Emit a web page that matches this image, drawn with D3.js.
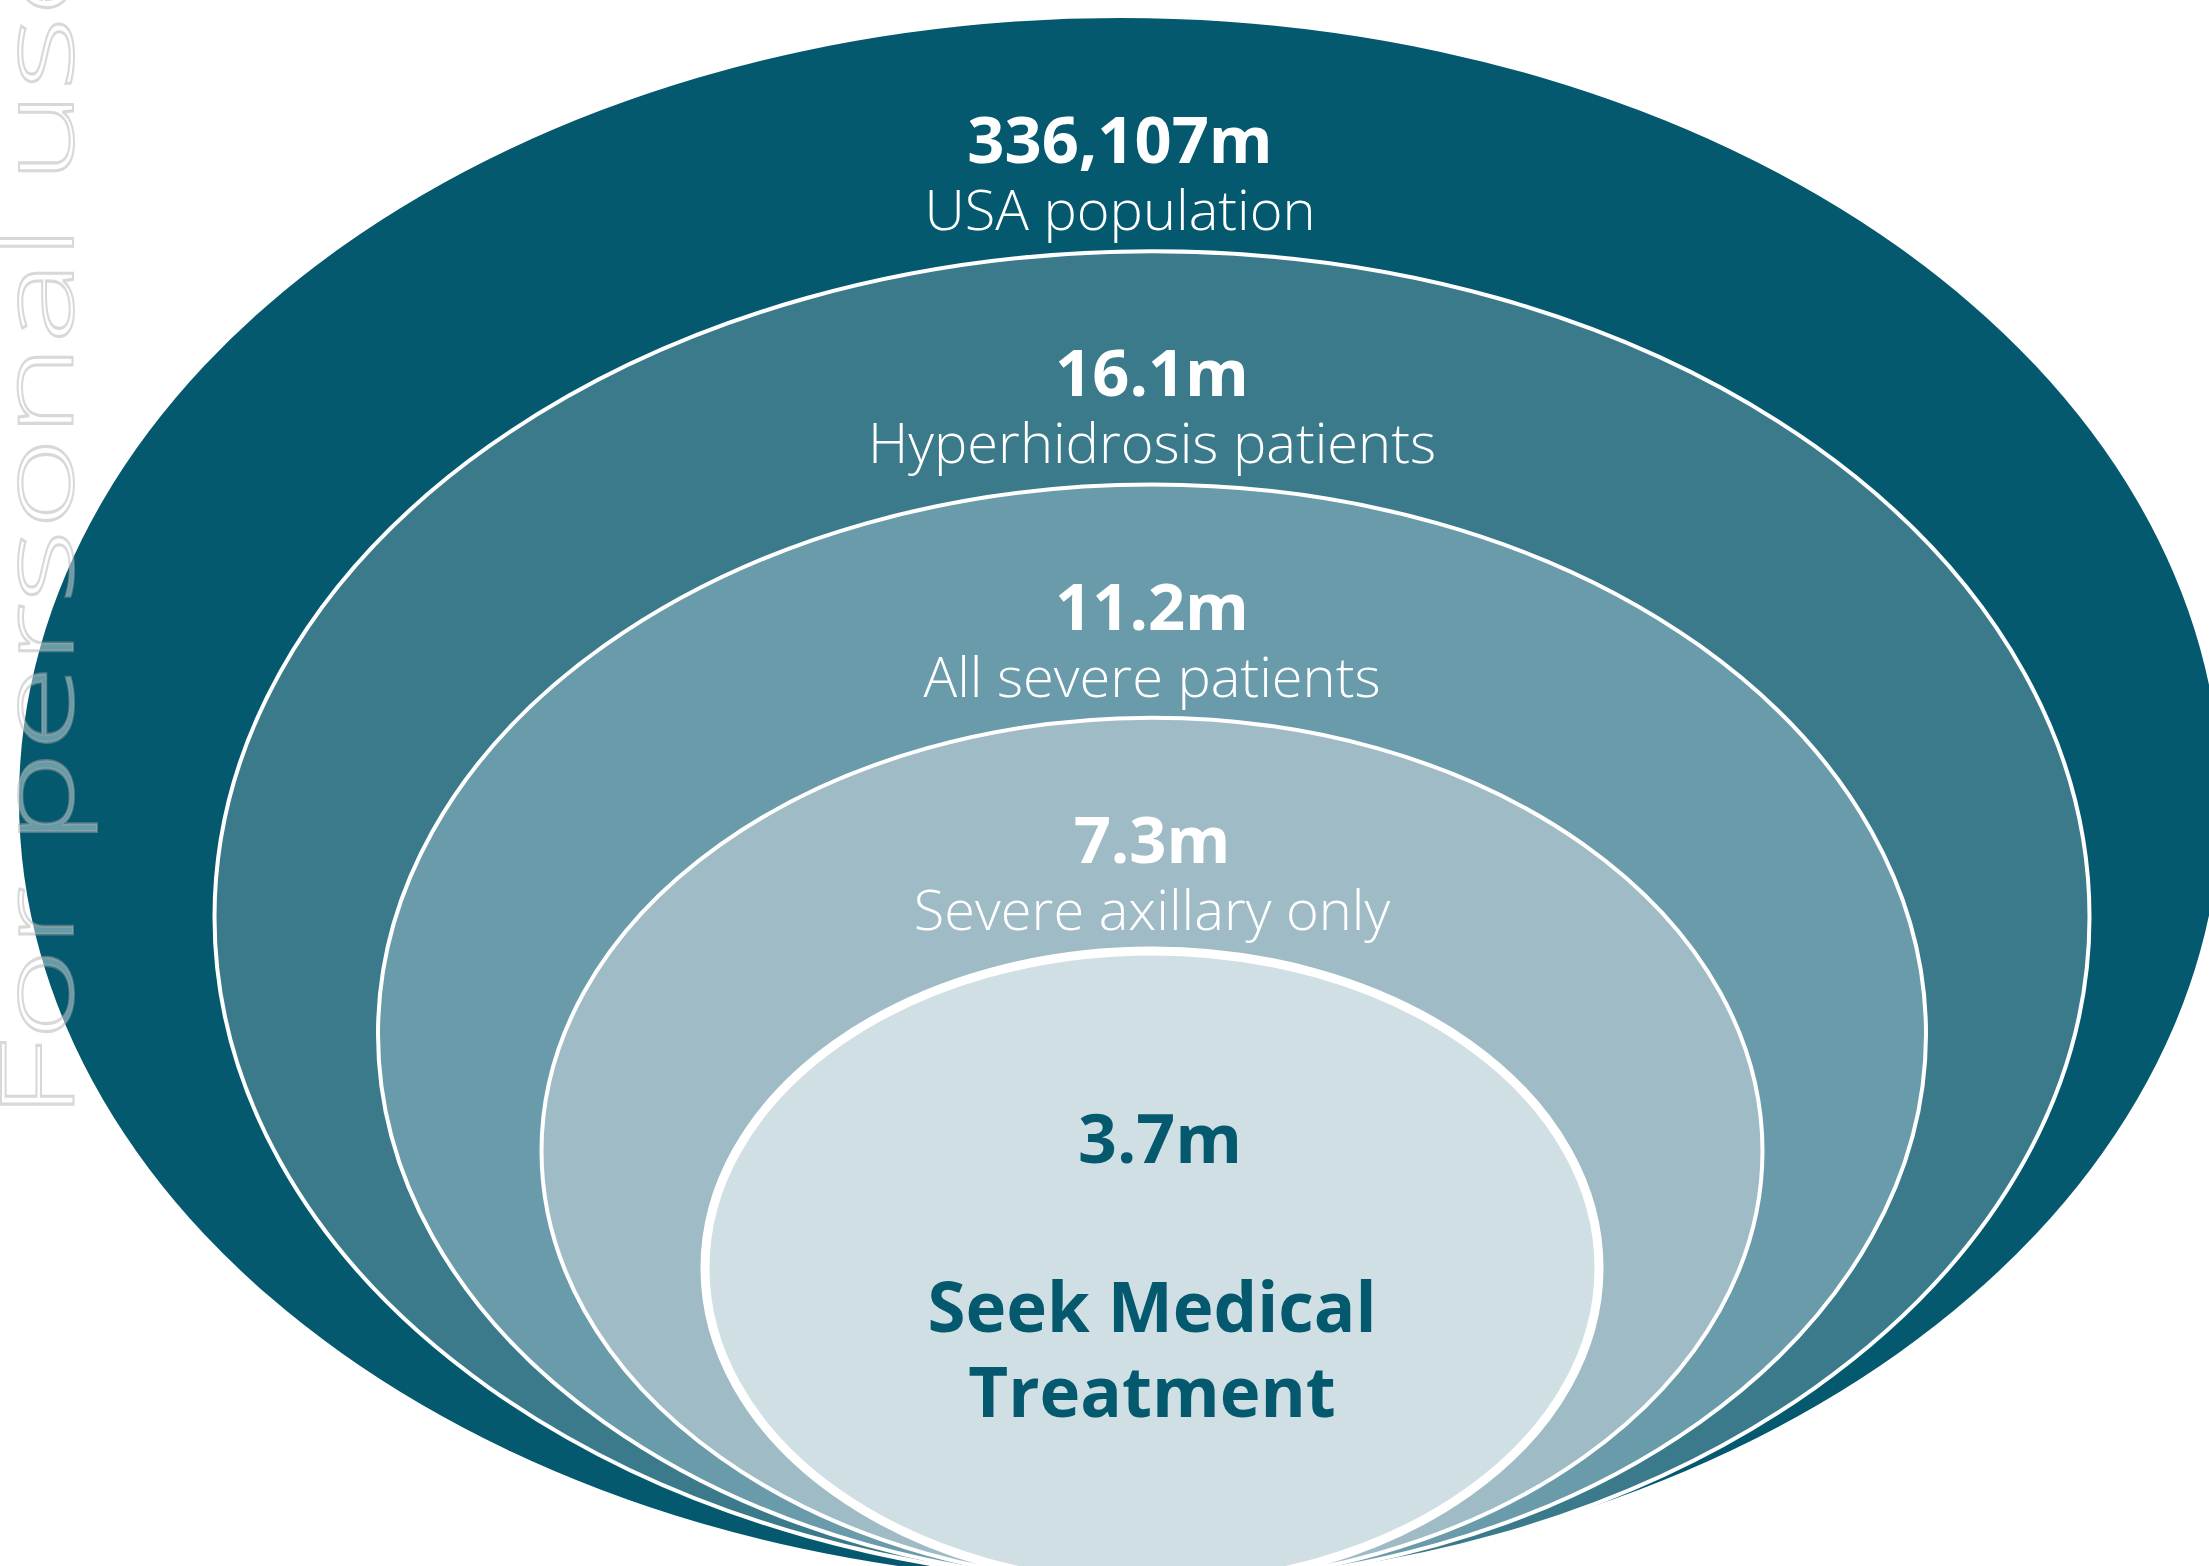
<!DOCTYPE html>
<html>
<head>
<meta charset="utf-8">
<script src="https://cdn.jsdelivr.net/npm/d3@7"></script>
<style>
  body { margin: 0; background: #ffffff; }
  svg { display: block; }
  .value { font-family: "Open Sans", sans-serif; font-weight: 700; }
  .desc { font-family: "Open Sans", sans-serif; font-weight: 300; }
</style>
</head>
<body>
<div id="chart"></div>
<script>
// nested ellipse chart - funnel of hyperhidrosis patients

var values = ["336,107m", "16.1m", "11.2m", "7.3m", "3.7m"];
var labels = [["USA population"], ["Hyperhidrosis patients"], ["All severe patients"], ["Severe axillary only"], ["Seek Medical", "Treatment"]];
var levels = d3.range(values.length);

var palette = ["#04596f", "#3b7a8b", "#6a9bab", "#9fbcc6", "#cfdfe4"];

var totwidth = 2209,
    totheight = 1566;

var svg = d3.select("#chart").append("svg")
    .attr("width", totwidth)
    .attr("height", totheight);

// every ring steps in by the same amount
var rxScale = d3.scaleLinear().domain([0, 4]).range([1101, 447]);
var ryScale = d3.scaleLinear().domain([0, 4]).range([782, 317]);
var topScale = d3.scaleLinear().domain([0, 4]).range([18, 951]);
var colour = d3.scaleOrdinal().domain(levels).range(palette);

// outer ring sits a bit to the left of the others
var cxOf = function(i) { return i === 0 ? 1120 : 1152; };
var cyOf = function(i) { return topScale(i) + ryScale(i); };

var rings = svg.selectAll(".ring")
    .data(levels)
    .enter()
    .append("ellipse")
      .attr("class", "ring")
      .attr("cx", function(d) { return cxOf(d); })
      .attr("cy", function(d) { return cyOf(d); })
      .attr("rx", function(d) { return rxScale(d); })
      .attr("ry", function(d) { return ryScale(d); })
      .attr("fill", function(d) { return colour(d); })
      .attr("stroke", function(d) { return d === 0 ? "none" : "#ffffff"; })
      .attr("stroke-width", function(d) { return d === 4 ? 9 : 4; });

// value + caption for the outer four rings
var outerLevels = levels.slice(0, 4);

svg.selectAll(".value.outer")
    .data(outerLevels)
    .enter()
    .append("text")
      .attr("class", "value outer")
      .attr("x", function(d) { return cxOf(d); })
      .attr("y", function(d) { return topScale(d) + 145; })
      .attr("text-anchor", "middle")
      .attr("font-size", 65)
      .attr("fill", "#ffffff")
      .text(function(d) { return values[d]; });

svg.selectAll(".desc.outer")
    .data(outerLevels)
    .enter()
    .append("text")
      .attr("class", "desc outer")
      .attr("x", function(d) { return cxOf(d); })
      .attr("y", function(d) { return topScale(d) + 212; })
      .attr("text-anchor", "middle")
      .attr("font-size", 56)
      .attr("fill", "#ffffff")
      .text(function(d) { return labels[d][0]; });

// innermost ring gets dark bold text
var last = values.length - 1;

svg.append("text")
    .attr("class", "value")
    .attr("x", cxOf(last) + 8)
    .attr("y", topScale(last) + 212)
    .attr("text-anchor", "middle")
    .attr("font-size", 68)
    .attr("fill", palette[0])
    .text(values[last]);

svg.append("g").selectAll("text")
    .data(labels[last])
    .enter()
    .append("text")
      .attr("class", "value")
      .attr("x", cxOf(last))
      .attr("y", function(d, i) { return topScale(last) + 381 + i * 85; })
      .attr("text-anchor", "middle")
      .attr("font-size", 69)
      .attr("fill", palette[0])
      .text(function(d) { return d; });

// watermark down the left side
svg.append("text")
    .attr("class", "desc")
    .attr("transform", "translate(73,1120) rotate(-90)")
    .attr("font-size", 102)
    .attr("textLength", 1190)
    .attr("lengthAdjust", "spacingAndGlyphs")
    .attr("fill", "#ffffff")
    .attr("fill-opacity", 0.4)
    .attr("stroke", "#a8a8a8")
    .attr("stroke-opacity", 0.45)
    .attr("stroke-width", 2)
    .text("For personal use");
</script>
</body>
</html>
